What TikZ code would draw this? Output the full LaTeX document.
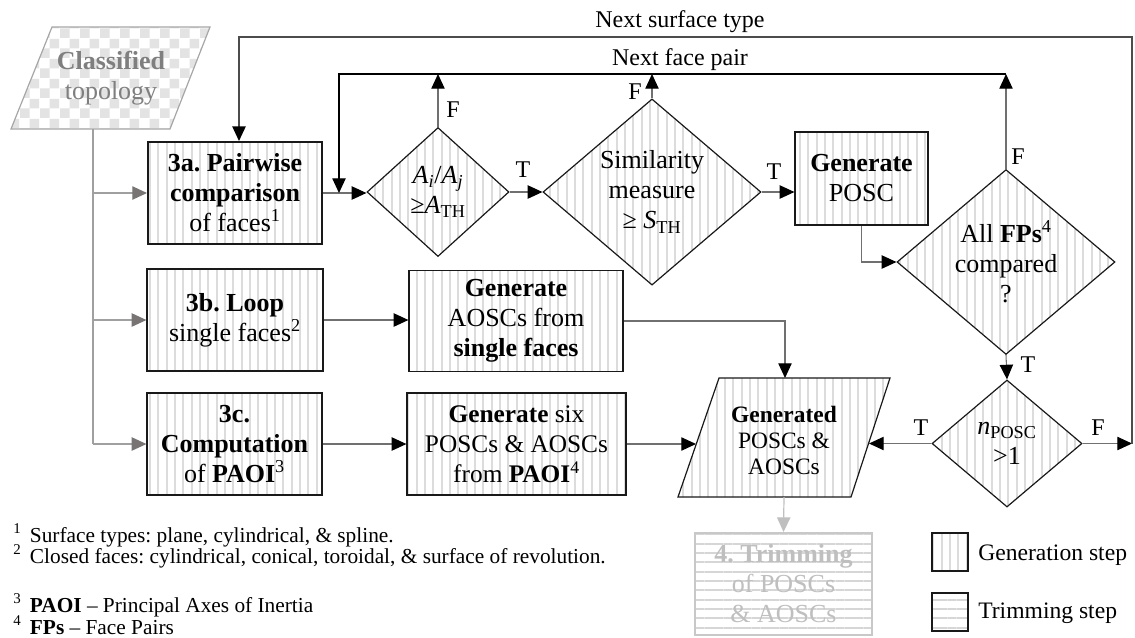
\documentclass[tikz,border=0pt]{standalone}
\usepackage{fontspec}
\setmainfont{Liberation Serif}
\usetikzlibrary{arrows.meta,shapes.geometric,patterns.meta,calc}
\frenchspacing

\pgfdeclarepattern{
  name=checker, type=uncolored,
  bottom left={\pgfpoint{0pt}{0pt}}, top right={\pgfpoint{15pt}{15pt}},
  tile size={\pgfpoint{15pt}{15pt}},
  code={
    \pgfpathrectangle{\pgfpoint{0pt}{0pt}}{\pgfpoint{7.5pt}{7.5pt}}
    \pgfpathrectangle{\pgfpoint{7.5pt}{7.5pt}}{\pgfpoint{7.5pt}{7.5pt}}
    \pgfusepath{fill}
  }
}

\definecolor{stripe}{HTML}{DCDCDC}
\definecolor{conn}{HTML}{707070}
\definecolor{feed}{HTML}{A0A0A0}
\definecolor{feedtip}{HTML}{787474}
\definecolor{clsborder}{HTML}{A6A6A6}
\definecolor{clstext}{HTML}{7F7F7F}
\definecolor{trimtext}{HTML}{BFBFBF}
\definecolor{trimline}{HTML}{D6D6D6}
\definecolor{trimborder}{HTML}{C8C8C8}

\tikzset{
  boxfont/.style={font=\fontsize{19.5}{22.5}\selectfont},
  genfill/.style={pattern={Lines[angle=90,distance=6.25pt,line width=1.5pt]}, pattern color=stripe},
  trimfill/.style={pattern={Lines[angle=0,distance=7pt,line width=1.5pt]}, pattern color=trimline},
  genbox/.style={rectangle, draw=black!90, line width=0.9pt, genfill, align=center, inner sep=0pt, boxfont},
  decision/.style={diamond, draw=black!90, line width=0.9pt, genfill, align=center, inner sep=0pt, boxfont},
  tip/.style={-{Triangle[length=11pt,width=10pt,color=black,fill=black]}},
  arr/.style={draw=conn, line width=0.8pt, tip},
  loopline/.style={draw=black, line width=0.9pt},
  loopline2/.style={draw=black!70, line width=1.1pt},
  feedline/.style={draw=feed, line width=0.9pt},
  feedarr/.style={draw=feed, line width=0.9pt, -{Triangle[length=11pt,width=10pt,color=feedtip,fill=feedtip]}},
  lbl/.style={font=\fontsize{18}{21}\selectfont, inner sep=0pt},
  foot/.style={font=\fontsize{16}{19}\selectfont, inner sep=0pt, anchor=base west},
}

\begin{document}
\begin{tikzpicture}[x=0.75pt,y=-0.75pt]
\useasboundingbox (0,0) rectangle (1135,637);

% Classified topology (input)
\coordinate (clsTL) at (52,27);
\coordinate (clsTR) at (210,27);
\coordinate (clsBR) at (170,129);
\coordinate (clsBL) at (11,129);
\path[fill=white] (clsTL) -- (clsTR) -- (clsBR) -- (clsBL) -- cycle;
\draw[draw=clsborder, line width=0.9pt, pattern=checker, pattern color=gray!22]
  (clsTL) -- (clsTR) -- (clsBR) -- (clsBL) -- cycle;
\node[boxfont, text=clstext, align=center, inner sep=0pt] (cls) at (111,78) {\textbf{Classified}\\topology};

% Step boxes
\node[genbox, minimum width=130.5pt, minimum height=76.5pt] (a3) at (235,193)
  {\textbf{3a. Pairwise}\\\textbf{comparison}\\of faces\textsuperscript{1}};
\node[genbox, minimum width=132pt, minimum height=76.5pt] (b3) at (235,320)
  {\textbf{3b. Loop}\\single faces\textsuperscript{2}};
\node[genbox, minimum width=131.25pt, minimum height=76.5pt] (c3) at (234.5,444)
  {\textbf{3c.}\\\textbf{Computation}\\of \textbf{PAOI}\textsuperscript{3}};
\node[genbox, minimum width=160.5pt, minimum height=75.75pt] (aosc) at (516,321)
  {\textbf{Generate}\\AOSCs from\\\textbf{single faces}};
\node[genbox, minimum width=164.25pt, minimum height=76.5pt, font=\fontsize{19}{22.5}\selectfont] (six) at (516.5,444)
  {\textbf{Generate} six\\POSCs \& AOSCs\\from \textbf{PAOI}\textsuperscript{4}};
\node[genbox, minimum width=99.75pt, minimum height=69.75pt] (posc) at (861.5,178.5)
  {\textbf{Generate}\\POSC};

% Decisions
\node[decision, minimum width=106.5pt, minimum height=96.75pt] (d1) at (438,192)
  {\textit{A}\textsubscript{\textit{i}}/\textit{A}\textsubscript{\textit{j}}\\≥\textit{A}\textsubscript{TH}};
\node[decision, minimum width=163.5pt, minimum height=137.25pt] (sim) at (652,192)
  {Similarity\\measure\\≥ \textit{S}\textsubscript{TH}};
\node[decision, minimum width=163.5pt, minimum height=130.5pt] (fps) at (1006,262)
  {All \textbf{FPs}\textsuperscript{4}\\compared\\?};
\node[decision, minimum width=112.5pt, minimum height=95.25pt] (n) at (1007,443.5)
  {\textit{n}\textsubscript{POSC}\\>1};

% Generated (parallelogram)
\coordinate (genTL) at (719,378);
\coordinate (genTR) at (890,378);
\coordinate (genBR) at (851,497);
\coordinate (genBL) at (678,497);
\draw[draw=black!90, line width=0.9pt, genfill] (genTL) -- (genTR) -- (genBR) -- (genBL) -- cycle;
\node[font=\fontsize{17.6}{19.5}\selectfont, align=center, inner sep=0pt] (gen) at (784,440)
  {\textbf{Generated}\\POSCs \&\\AOSCs};
\coordinate (genTop) at (785,378);
\coordinate (genBot) at (784,497);
\coordinate (genL) at (696,444);
\coordinate (genR) at (869,443.5);

% Trimming
\node[rectangle, draw=trimborder, line width=0.9pt, trimfill, align=center, inner sep=0pt,
  boxfont, text=trimtext, minimum width=132.75pt, minimum height=76.5pt] (trim) at (783.5,584)
  {\textbf{4. Trimming}\\of POSCs\\\& AOSCs};

% Feed from classified topology
\coordinate (feedtop) at (93,129);
\draw[feedline] (feedtop) -- (feedtop |- c3.west);
\draw[feedarr] (feedtop |- a3.west) -- (a3.west);
\draw[feedarr] (feedtop |- b3.west) -- (b3.west);
\draw[feedarr] (feedtop |- c3.west) -- (c3.west);

% Main connectors
\draw[arr] (a3.east) -- (a3.east -| d1.west);
\draw[arr] (d1.east) -- (sim.west);
\draw[arr] (sim.east) -- (sim.east -| posc.west);
\draw[arr] (posc.south) |- (fps.west);
\draw[arr] (fps.south) -- (n.north);
\draw[arr] (n.west) -- (genR);
\draw[arr] (b3.east) -- (b3.east -| aosc.west);
\draw[arr] (c3.east) -- (six.west);
\draw[arr] (aosc.east) -| (genTop);
\draw[arr] (six.east) -- (genL);
\draw[draw=trimtext, line width=0.9pt, -{Triangle[length=11pt,width=10pt,color=trimtext,fill=trimtext]}] (genBot) -- (trim.north);

% Next face pair loop
\coordinate (nfpL) at (339,74);
\coordinate (nfpR) at (1006,74);
\coordinate (nfpDrop) at (339,193);
\draw[arr] (d1.north) -- (d1.north |- nfpL);
\draw[arr] (sim.north) -- (sim.north |- nfpL);
\draw[arr] (fps.north) -- (nfpR);
\draw[loopline, tip] (nfpR) -- (nfpL) -- (nfpDrop);
\node[lbl, anchor=base] (nfplbl) at (680,65) {Next face pair};

% Next surface type loop
\coordinate (nstR) at (1132,443.5);
\coordinate (nstTR) at (1132,37);
\coordinate (nstTL) at (239,37);
\draw[arr] (n.east) -- (nstR);
\draw[loopline2, tip] (nstR) -- (nstTR) -- (nstTL) -- (nstTL |- a3.north);
\node[lbl, anchor=base] (nstlbl) at (680,27) {Next surface type};

% T / F labels
\node[lbl] (f1) at (453,110) {F};
\node[lbl] (t1) at (523,170) {T};
\node[lbl] (f2) at (635,92) {F};
\node[lbl] (t2) at (774,172) {T};
\node[lbl] (f3) at (1018,157) {F};
\node[lbl] (t3) at (1028,365) {T};
\node[lbl] (t4) at (921,428) {T};
\node[lbl] (f4) at (1098,428) {F};

% Footnotes
\node[foot] (fn1) at (13,542) {\textsuperscript{1}\hspace{0.4em}Surface types: plane, cylindrical, \& spline.};
\node[foot] (fn2) at (13,563) {\textsuperscript{2}\hspace{0.4em}Closed faces: cylindrical, conical, toroidal, \& surface of revolution.};
\node[foot] (fn3) at (13,612) {\textsuperscript{3}\hspace{0.4em}\textbf{PAOI} – Principal Axes of Inertia};
\node[foot] (fn4) at (13,634) {\textsuperscript{4}\hspace{0.4em}\textbf{FPs} – Face Pairs};

% Legend
\node[rectangle, draw=black!90, line width=0.9pt, genfill, minimum width=27pt, minimum height=28.5pt, inner sep=0pt] (legG) at (950,552) {};
\node[rectangle, draw=black!90, line width=0.9pt, trimfill, minimum width=27pt, minimum height=28.5pt, inner sep=0pt] (legT) at (950,612) {};
\node[font=\fontsize{17.7}{20}\selectfont, inner sep=0pt, anchor=base west] (legGt) at (978,560) {Generation step};
\node[font=\fontsize{17.7}{20}\selectfont, inner sep=0pt, anchor=base west] (legTt) at (978,618) {Trimming step};
\end{tikzpicture}
\end{document}
